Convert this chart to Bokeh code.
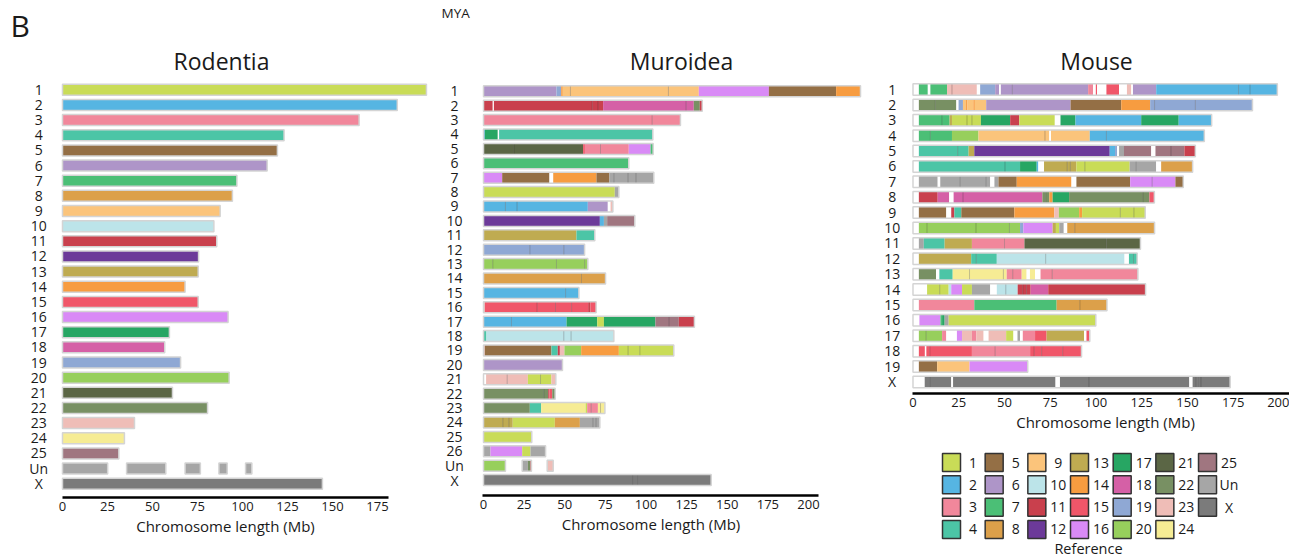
from bokeh.plotting import figure
from bokeh.layouts import row, column
from bokeh.models import FixedTicker, Range1d, ColumnDataSource
from bokeh.embed import file_html
from bokeh.resources import INLINE
from bokeh.core.properties import value

FONT = "Open Sans"
TEXT = "#1a1a1a"

# ---------------- reference chromosome colours ----------------
REF_KEYS = [str(i) for i in range(1, 26)] + ["Un", "X"]
REF_COLORS = ["#c9dc57", "#56b5e2", "#f1879b", "#4cc5a6", "#946f45", "#ae95c8", "#4bbf76",
              "#dca04a", "#fbc47b", "#bce4e9", "#c9404d", "#6c3a99", "#bfab51", "#f79c40",
              "#f05669", "#d98af6", "#27a663", "#d560a6", "#8fa8d4", "#97cf5c", "#5b6645",
              "#789063", "#efbdb7", "#f6ec94", "#a07680", "#a6a6a6", "#7b7b7b"]
COLORS = dict(zip(REF_KEYS, REF_COLORS))
COLORS["W"] = "#ffffff"

# ---------------- Rodentia (ancestral) ----------------
RODENTIA_CHROMS = [str(i) for i in range(1, 26)] + ["Un", "X"]
RODENTIA_LENGTHS = [202.2, 186.0, 164.8, 123.1, 119.4, 113.7, 96.9, 94.4, 87.6, 84.1, 85.7,
                    75.6, 75.4, 68.1, 75.4, 92.0, 59.4, 56.8, 65.6, 92.6, 61.1, 80.6, 40.0,
                    34.4, 31.3, None, 144.4]
RODENTIA_UN_START = [0.0, 35.6, 68.1, 86.9, 101.7]
RODENTIA_UN_END = [25.1, 57.4, 76.6, 91.5, 105.2]

# ---------------- Muroidea (chrom, start, end, reference) ----------------
MUROIDEA_CHROMS = [str(i) for i in range(1, 27)] + ["Un", "X"]
MUROIDEA_SEGMENTS = [
    ("1", 0, 44.9, "6"), ("1", 44.9, 47.8, "19"), ("1", 47.8, 48.8, "14"), ("1", 48.8, 53.5, "9"),
    ("1", 53.5, 113.8, "9"), ("1", 113.8, 132.5, "9"), ("1", 132.5, 175.6, "16"),
    ("1", 175.6, 217.0, "5"), ("1", 217.0, 232.0, "14"),
    ("2", 0, 5.7, "11"), ("2", 5.7, 6.4, "W"), ("2", 6.4, 66.9, "11"), ("2", 66.9, 70.5, "11"),
    ("2", 70.5, 73.6, "11"), ("2", 73.6, 124.7, "18"), ("2", 124.7, 129.4, "18"),
    ("2", 129.4, 133.1, "22"), ("2", 133.1, 134.6, "11"),
    ("3", 0, 103.8, "3"), ("3", 103.8, 121.2, "3"),
    ("4", 0, 0.8, "2"), ("4", 0.8, 8.8, "17"), ("4", 8.8, 9.6, "W"), ("4", 9.6, 104.2, "4"),
    ("5", 0, 18.7, "21"), ("5", 18.7, 61.3, "21"), ("5", 61.3, 62.4, "15"), ("5", 62.4, 72.0, "3"),
    ("5", 72.0, 89.4, "3"), ("5", 89.4, 102.8, "16"), ("5", 102.8, 104.4, "7"),
    ("6", 0, 89.4, "7"),
    ("7", 0, 11.5, "16"), ("7", 11.5, 40.6, "5"), ("7", 40.6, 42.9, "W"), ("7", 42.9, 69.5, "14"),
    ("7", 69.5, 77.5, "5"), ("7", 77.5, 80.2, "Un"), ("7", 80.2, 89.0, "Un"),
    ("7", 89.0, 93.9, "Un"), ("7", 93.9, 104.8, "Un"),
    ("8", 0, 80.8, "1"), ("8", 80.8, 83.3, "Un"),
    ("9", 0, 13.5, "2"), ("9", 13.5, 20.7, "2"), ("9", 20.7, 64.2, "2"), ("9", 64.2, 76.5, "6"),
    ("9", 76.5, 78.2, "W"), ("9", 78.2, 79.6, "23"),
    ("10", 0, 71.6, "12"), ("10", 71.6, 74.1, "2"), ("10", 74.1, 76.1, "Un"), ("10", 76.1, 93.1, "25"),
    ("11", 0, 57.2, "13"), ("11", 57.2, 68.5, "4"),
    ("12", 0, 28.5, "19"), ("12", 28.5, 49.4, "19"), ("12", 49.4, 62.2, "19"),
    ("13", 0, 5.7, "20"), ("13", 5.7, 44.9, "20"), ("13", 44.9, 62.2, "20"), ("13", 62.2, 64.2, "20"),
    ("14", 0, 60.3, "8"), ("14", 60.3, 75.1, "8"),
    ("15", 0, 50.5, "2"), ("15", 50.5, 58.7, "2"),
    ("16", 0, 0.8, "23"), ("16", 0.8, 33.0, "15"), ("16", 33.0, 44.3, "15"), ("16", 44.3, 54.2, "15"),
    ("16", 54.2, 64.4, "15"), ("16", 64.4, 65.8, "11"), ("16", 65.8, 69.3, "15"),
    ("17", 0, 17.2, "2"), ("17", 17.2, 51.1, "2"), ("17", 51.1, 70.0, "17"), ("17", 70.0, 74.1, "1"),
    ("17", 74.1, 105.8, "17"), ("17", 105.8, 114.1, "25"), ("17", 114.1, 120.2, "25"),
    ("17", 120.2, 129.8, "11"),
    ("18", 0, 1.8, "4"), ("18", 1.8, 49.4, "10"), ("18", 49.4, 53.9, "10"), ("18", 53.9, 80.2, "10"),
    ("19", 0, 0.8, "23"), ("19", 0.8, 41.8, "5"), ("19", 41.8, 45.7, "4"), ("19", 45.7, 47.0, "11"),
    ("19", 47.0, 49.8, "23"), ("19", 49.8, 60.1, "20"), ("19", 60.1, 83.3, "14"),
    ("19", 83.3, 89.0, "1"), ("19", 89.0, 96.2, "1"), ("19", 96.2, 117.1, "1"),
    ("20", 0, 48.6, "6"),
    ("21", 0, 1.6, "W"), ("21", 1.6, 14.6, "23"), ("21", 14.6, 27.3, "23"), ("21", 27.3, 35.1, "1"),
    ("21", 35.1, 41.8, "1"), ("21", 41.8, 44.5, "23"),
    ("22", 0, 37.1, "22"), ("22", 37.1, 39.8, "22"), ("22", 39.8, 40.6, "11"),
    ("22", 40.6, 42.3, "15"), ("22", 42.3, 44.1, "22"),
    ("23", 0, 28.5, "22"), ("23", 28.5, 35.5, "4"), ("23", 35.5, 62.8, "24"), ("23", 62.8, 63.8, "1"),
    ("23", 63.8, 66.3, "3"), ("23", 66.3, 70.4, "3"), ("23", 70.4, 72.0, "24"), ("23", 72.0, 74.7, "24"),
    ("24", 0, 11.9, "13"), ("24", 11.9, 15.6, "13"), ("24", 15.6, 18.0, "13"), ("24", 18.0, 43.9, "1"),
    ("24", 43.9, 59.3, "8"), ("24", 59.3, 67.3, "Un"), ("24", 67.3, 69.3, "Un"), ("24", 69.3, 71.6, "Un"),
    ("25", 0, 29.7, "1"),
    ("26", 0, 4.3, "Un"), ("26", 4.3, 23.8, "16"), ("26", 23.8, 28.9, "1"), ("26", 28.9, 38.2, "Un"),
    ("Un", 0, 13.5, "20"), ("Un", 23.8, 27.3, "Un"), ("Un", 27.3, 28.9, "22"), ("Un", 28.9, 29.5, "11"),
    ("Un", 39.2, 42.9, "23"),
    ("X", 0, 92.1, "X"), ("X", 92.1, 95.2, "X"), ("X", 95.2, 140.1, "X"),
]

# ---------------- Mouse (chrom, start, end, reference) ----------------
MOUSE_CHROMS = [str(i) for i in range(1, 20)] + ["X"]
MOUSE_SEGMENTS = [
    ("1", 0, 3.2, "W"), ("1", 3.2, 8.1, "7"), ("1", 8.1, 9.5, "W"), ("1", 9.5, 18.6, "7"),
    ("1", 18.6, 21.3, "23"), ("1", 21.3, 34.9, "23"), ("1", 34.9, 36.7, "W"), ("1", 36.7, 44.9, "19"),
    ("1", 44.9, 47.1, "6"), ("1", 47.1, 48.0, "W"), ("1", 48.0, 54.3, "6"), ("1", 54.3, 95.7, "6"),
    ("1", 95.7, 98.4, "3"), ("1", 98.4, 99.9, "W"), ("1", 99.9, 100.6, "15"), ("1", 100.6, 105.7, "W"),
    ("1", 105.7, 112.6, "15"), ("1", 112.6, 116.9, "W"), ("1", 116.9, 119.3, "23"),
    ("1", 119.3, 120.2, "W"), ("1", 120.2, 132.9, "6"), ("1", 132.9, 177.9, "2"),
    ("1", 177.9, 184.2, "2"), ("1", 184.2, 199.1, "2"),
    ("2", 0, 3.2, "W"), ("2", 3.2, 12.2, "22"), ("2", 12.2, 23.7, "22"), ("2", 23.7, 24.9, "W"),
    ("2", 24.9, 27.3, "19"), ("2", 27.3, 29.0, "9"), ("2", 29.0, 29.8, "14"), ("2", 29.8, 33.0, "9"),
    ("2", 33.0, 33.8, "14"), ("2", 33.8, 40.0, "9"), ("2", 40.0, 86.1, "6"), ("2", 86.1, 113.8, "5"),
    ("2", 113.8, 129.6, "14"), ("2", 129.6, 132.0, "19"), ("2", 132.0, 154.3, "19"),
    ("2", 154.3, 185.5, "19"),
    ("3", 0, 3.2, "W"), ("3", 3.2, 15.9, "7"), ("3", 15.9, 20.0, "7"), ("3", 20.0, 21.3, "13"),
    ("3", 21.3, 29.5, "1"), ("3", 29.5, 32.2, "1"), ("3", 32.2, 37.1, "1"), ("3", 37.1, 53.1, "17"),
    ("3", 53.1, 58.1, "11"), ("3", 58.1, 77.5, "1"), ("3", 77.5, 80.6, "W"), ("3", 80.6, 88.8, "17"),
    ("3", 88.8, 124.7, "2"), ("3", 124.7, 145.2, "17"), ("3", 145.2, 163.2, "2"),
    ("4", 0, 3.2, "W"), ("4", 3.2, 9.5, "7"), ("4", 9.5, 21.3, "7"), ("4", 21.3, 35.8, "20"),
    ("4", 35.8, 72.1, "9"), ("4", 72.1, 74.5, "9"), ("4", 74.5, 75.4, "W"), ("4", 75.4, 96.6, "9"),
    ("4", 96.6, 105.7, "2"), ("4", 105.7, 159.2, "2"),
    ("5", 0, 3.2, "W"), ("5", 3.2, 24.4, "4"), ("5", 24.4, 30.4, "4"), ("5", 30.4, 33.5, "13"),
    ("5", 33.5, 107.5, "12"), ("5", 107.5, 110.4, "2"), ("5", 110.4, 111.5, "19"),
    ("5", 111.5, 112.6, "W"), ("5", 112.6, 115.3, "Un"), ("5", 115.3, 130.2, "25"),
    ("5", 130.2, 132.5, "W"), ("5", 132.5, 141.0, "25"), ("5", 141.0, 148.3, "25"),
    ("5", 148.3, 154.3, "11"),
    ("6", 0, 3.2, "W"), ("6", 3.2, 50.3, "4"), ("6", 50.3, 58.5, "4"), ("6", 58.5, 67.6, "17"),
    ("6", 67.6, 68.5, "2"), ("6", 68.5, 71.6, "W"), ("6", 71.6, 84.3, "13"), ("6", 84.3, 86.0, "13"),
    ("6", 86.0, 89.3, "13"), ("6", 89.3, 93.9, "1"), ("6", 93.9, 118.4, "1"), ("6", 118.4, 122.0, "Un"),
    ("6", 122.0, 132.9, "Un"), ("6", 132.9, 135.6, "W"), ("6", 135.6, 152.8, "8"),
    ("7", 0, 3.2, "W"), ("7", 3.2, 13.5, "Un"), ("7", 13.5, 14.9, "W"), ("7", 14.9, 25.8, "Un"),
    ("7", 25.8, 40.0, "Un"), ("7", 40.0, 42.2, "Un"), ("7", 42.2, 44.5, "W"), ("7", 44.5, 46.7, "Un"),
    ("7", 46.7, 56.7, "5"), ("7", 56.7, 86.6, "14"), ("7", 86.6, 89.3, "W"), ("7", 89.3, 118.7, "5"),
    ("7", 118.7, 130.7, "16"), ("7", 130.7, 143.4, "16"), ("7", 143.4, 147.7, "5"),
    ("8", 0, 3.2, "W"), ("8", 3.2, 13.5, "11"), ("8", 13.5, 19.8, "18"), ("8", 19.8, 22.2, "W"),
    ("8", 22.2, 27.3, "18"), ("8", 27.3, 70.7, "18"), ("8", 70.7, 72.5, "22"), ("8", 72.5, 74.5, "22"),
    ("8", 74.5, 76.3, "14"), ("8", 76.3, 85.3, "17"), ("8", 85.3, 125.6, "22"),
    ("8", 125.6, 129.2, "22"), ("8", 129.2, 131.9, "15"),
    ("9", 0, 3.2, "W"), ("9", 3.2, 18.2, "5"), ("9", 18.2, 20.9, "W"), ("9", 20.9, 22.6, "11"),
    ("9", 22.6, 26.4, "4"), ("9", 26.4, 55.4, "5"), ("9", 55.4, 77.2, "14"), ("9", 77.2, 79.7, "23"),
    ("9", 79.7, 90.8, "20"), ("9", 90.8, 92.4, "14"), ("9", 92.4, 113.3, "1"), ("9", 113.3, 120.7, "1"),
    ("9", 120.7, 126.9, "1"),
    ("10", 0, 3.2, "W"), ("10", 3.2, 7.7, "20"), ("10", 7.7, 34.4, "20"), ("10", 34.4, 52.7, "20"),
    ("10", 52.7, 58.5, "20"), ("10", 58.5, 60.3, "19"), ("10", 60.3, 76.3, "16"),
    ("10", 76.3, 78.1, "13"), ("10", 78.1, 79.9, "1"), ("10", 79.9, 82.4, "Un"), ("10", 82.4, 84.3, "W"),
    ("10", 84.3, 88.4, "8"), ("10", 88.4, 132.0, "8"),
    ("11", 0, 3.2, "W"), ("11", 3.2, 5.9, "Un"), ("11", 5.9, 17.3, "4"), ("11", 17.3, 32.2, "13"),
    ("11", 32.2, 50.0, "3"), ("11", 50.0, 60.9, "3"), ("11", 60.9, 105.7, "21"),
    ("11", 105.7, 124.3, "21"),
    ("12", 0, 3.2, "W"), ("12", 3.2, 31.8, "13"), ("12", 31.8, 34.6, "4"), ("12", 34.6, 45.8, "4"),
    ("12", 45.8, 72.5, "10"), ("12", 72.5, 115.6, "10"), ("12", 115.6, 118.0, "W"),
    ("12", 118.0, 120.5, "4"), ("12", 120.5, 122.5, "4"),
    ("13", 0, 3.2, "W"), ("13", 3.2, 12.6, "22"), ("13", 12.6, 14.4, "W"), ("13", 14.4, 21.7, "4"),
    ("13", 21.7, 30.9, "24"), ("13", 30.9, 49.4, "24"), ("13", 49.4, 51.2, "24"),
    ("13", 51.2, 54.5, "3"), ("13", 54.5, 59.4, "3"), ("13", 59.4, 62.1, "24"), ("13", 62.1, 63.9, "W"),
    ("13", 63.9, 66.7, "24"), ("13", 66.7, 69.7, "W"), ("13", 69.7, 76.1, "3"), ("13", 76.1, 122.9, "3"),
    ("14", 0, 7.7, "W"), ("14", 7.7, 14.6, "1"), ("14", 14.6, 19.5, "1"), ("14", 19.5, 20.9, "10"),
    ("14", 20.9, 26.8, "16"), ("14", 26.8, 32.2, "1"), ("14", 32.2, 42.2, "Un"), ("14", 42.2, 45.8, "W"),
    ("14", 45.8, 50.7, "10"), ("14", 50.7, 57.2, "10"), ("14", 57.2, 60.0, "11"),
    ("14", 60.0, 62.0, "11"), ("14", 62.0, 64.3, "11"), ("14", 64.3, 73.9, "18"),
    ("14", 73.9, 127.1, "11"),
    ("15", 0, 3.2, "W"), ("15", 3.2, 33.5, "3"), ("15", 33.5, 78.5, "7"), ("15", 78.5, 91.2, "8"),
    ("15", 91.2, 106.0, "8"),
    ("16", 0, 3.5, "W"), ("16", 3.5, 15.0, "16"), ("16", 15.0, 15.9, "7"), ("16", 15.9, 17.3, "17"),
    ("16", 17.3, 19.5, "Un"), ("16", 19.5, 99.9, "1"),
    ("17", 0, 3.2, "W"), ("17", 3.2, 7.2, "20"), ("17", 7.2, 15.9, "20"), ("17", 15.9, 18.2, "3"),
    ("17", 18.2, 24.0, "W"), ("17", 24.0, 26.8, "16"), ("17", 26.8, 32.2, "23"),
    ("17", 32.2, 34.6, "3"), ("17", 34.6, 38.6, "23"), ("17", 38.6, 41.3, "W"),
    ("17", 41.3, 50.9, "23"), ("17", 50.9, 54.9, "1"), ("17", 54.9, 57.1, "W"),
    ("17", 57.1, 58.5, "Un"), ("17", 58.5, 60.0, "W"), ("17", 60.0, 66.7, "3"),
    ("17", 66.7, 73.0, "15"), ("17", 73.0, 93.5, "13"), ("17", 93.5, 94.8, "W"),
    ("17", 94.8, 96.6, "15"),
    ("18", 0, 3.2, "W"), ("18", 3.2, 6.5, "15"), ("18", 6.5, 7.3, "W"), ("18", 7.3, 9.2, "15"),
    ("18", 9.2, 32.2, "15"), ("18", 32.2, 44.9, "3"), ("18", 44.9, 64.0, "3"), ("18", 64.0, 66.2, "15"),
    ("18", 66.2, 70.3, "15"), ("18", 70.3, 81.8, "15"), ("18", 81.8, 92.1, "15"),
    ("19", 0, 3.2, "W"), ("19", 3.2, 13.2, "5"), ("19", 13.2, 30.9, "9"), ("19", 30.9, 62.7, "16"),
    ("X", 0, 6.4, "W"), ("X", 6.4, 9.2, "X"), ("X", 9.2, 20.9, "X"), ("X", 20.9, 21.9, "W"),
    ("X", 21.9, 77.9, "X"), ("X", 77.9, 80.3, "W"), ("X", 80.3, 96.2, "X"), ("X", 96.2, 151.0, "X"),
    ("X", 151.0, 152.8, "W"), ("X", 152.8, 154.7, "X"), ("X", 154.7, 155.6, "X"),
    ("X", 155.6, 157.4, "X"), ("X", 157.4, 173.3, "X"),
]

RODENTIA_TICKS = [0, 25, 50, 75, 100, 125, 150, 175]
MUROIDEA_TICKS = [0, 25, 50, 75, 100, 125, 150, 175, 200]
MOUSE_TICKS = [0, 25, 50, 75, 100, 125, 150, 175, 200]


def rodentia_segments():
    segs = []
    for c, L in zip(RODENTIA_CHROMS, RODENTIA_LENGTHS):
        if c == "Un":
            for a, b in zip(RODENTIA_UN_START, RODENTIA_UN_END):
                segs.append(("Un", a, b, "Un"))
        else:
            segs.append((c, 0.0, L, c))
    return segs


def sources(segments, chroms, h):
    pos = {c: i for i, c in enumerate(chroms)}
    seg = dict(y=[], left=[], right=[], color=[])
    blk = dict(y=[], left=[], right=[])
    brk = dict(x=[], y0=[], y1=[])
    for c in chroms:
        ss = sorted([s for s in segments if s[0] == c], key=lambda s: s[1])
        cur = None
        prev = None
        for (_, a, b, r) in ss:
            seg["y"].append(pos[c]); seg["left"].append(a); seg["right"].append(b)
            seg["color"].append(COLORS[r])
            if cur is not None and abs(a - cur[1]) < 0.05:
                cur[1] = b
                if prev is not None and prev == r and r != "W":
                    brk["x"].append(a); brk["y0"].append(pos[c] - h / 2); brk["y1"].append(pos[c] + h / 2)
            else:
                if cur is not None:
                    blk["y"].append(pos[c]); blk["left"].append(cur[0]); blk["right"].append(cur[1])
                cur = [a, b]
            prev = r
        if cur is not None:
            blk["y"].append(pos[c]); blk["left"].append(cur[0]); blk["right"].append(cur[1])
    return ColumnDataSource(seg), ColumnDataSource(blk), ColumnDataSource(brk)


def make_panel(segments, chroms, xr, yr, fw, fh, mbl, mbr, mbb, bar_h, label_x,
               ticks, bounds, axis_label):
    p = figure(frame_width=fw, frame_height=fh, x_range=Range1d(*xr), y_range=Range1d(*yr),
               output_backend="svg", toolbar_location=None, tools="", y_axis_location=None,
               min_border_left=mbl, min_border_right=mbr, min_border_top=0,
               min_border_bottom=mbb, outline_line_color=None,
               background_fill_color="white", border_fill_color="white")
    p.xgrid.visible = False
    p.ygrid.visible = False
    seg, blk, brk = sources(segments, chroms, bar_h)
    p.hbar(y="y", left="left", right="right", height=bar_h, fill_color="white",
           line_color=None, source=blk)
    p.hbar(y="y", left="left", right="right", height=bar_h, fill_color="color",
           line_color=None, source=seg)
    p.segment(x0="x", y0="y0", x1="x", y1="y1", line_color="black", line_alpha=0.22,
              line_width=1, source=brk)
    p.hbar(y="y", left="left", right="right", height=bar_h, fill_color=None,
           line_color="#d4d4d4", line_width=1.5, source=blk)
    p.text(x=[label_x] * len(chroms), y=list(range(len(chroms))), text=chroms,
           text_align="center", text_baseline="middle", text_font=value(FONT),
           text_font_size="14px", text_color=TEXT)
    ax = p.xaxis[0]
    ax.ticker = FixedTicker(ticks=ticks)
    ax.bounds = bounds
    ax.axis_line_width = 2.5
    ax.axis_line_color = "black"
    ax.major_tick_line_color = None
    ax.minor_tick_line_color = None
    ax.major_tick_out = 0
    ax.major_tick_in = 0
    ax.major_label_text_font = FONT
    ax.major_label_text_font_size = "13px"
    ax.major_label_text_color = TEXT
    ax.major_label_standoff = 4
    if axis_label:
        ax.axis_label = axis_label
        ax.axis_label_text_font = FONT
        ax.axis_label_text_font_size = "15px"
        ax.axis_label_text_font_style = "normal"
        ax.axis_label_text_color = TEXT
        ax.axis_label_standoff = 2
    return p


# Rodentia: 0 Mb at x=62, 1.8 px/Mb ; rows 15.15 px apart
rod = make_panel(rodentia_segments(), RODENTIA_CHROMS,
                 xr=(-23.33, -23.33 + 410 / 1.8), yr=(-0.944 + 422 / 15.15, -0.944),
                 fw=410, fh=422, mbl=20, mbr=5, mbb=45, bar_h=11 / 15.15, label_x=-13.2,
                 ticks=RODENTIA_TICKS, bounds=(0, 181), axis_label="Chromosome length (Mb)")

# Muroidea: 0 Mb at x=483, 1.625 px/Mb ; rows 14.4 px apart
mur = make_panel(MUROIDEA_SEGMENTS, MUROIDEA_CHROMS,
                 xr=(-27.08, -27.08 + 423 / 1.625), yr=(-1.097 + 420 / 14.4, -1.097),
                 fw=423, fh=420, mbl=4, mbr=8, mbb=47, bar_h=11 / 14.4, label_x=-17.85,
                 ticks=MUROIDEA_TICKS, bounds=(-0.6, 206), axis_label="Chromosome length (Mb)")

# Mouse: 0 Mb at x=912.5, 1.83 px/Mb ; rows 15.39 px apart
mou = make_panel(MOUSE_SEGMENTS, MOUSE_CHROMS,
                 xr=(-20.49, -20.49 + 414 / 1.83), yr=(-0.91 + 318 / 15.39, -0.91),
                 fw=414, fh=318, mbl=5, mbr=0, mbb=19, bar_h=11.5 / 15.39, label_x=-11.4,
                 ticks=MOUSE_TICKS, bounds=(-0.3, 210), axis_label=None)

# ---------------- header (window-pixel coordinates) ----------------
hdr = figure(frame_width=1289, frame_height=75, x_range=Range1d(0, 1289), y_range=Range1d(75, 0),
             output_backend="svg", toolbar_location=None, tools="", x_axis_location=None,
             y_axis_location=None, min_border=0, outline_line_color=None)
hdr.xgrid.visible = False
hdr.ygrid.visible = False
hdr.text(x=[10], y=[25], text=["B"], text_font=value(FONT), text_font_size="30px",
         text_color=TEXT, text_baseline="middle", text_align="left")
hdr.text(x=[441], y=[12], text=["MYA"], text_font=value(FONT), text_font_size="13.5px",
         text_color=TEXT, text_baseline="middle", text_align="left")
hdr.text(x=[221, 681, 1096], y=[60, 60, 60], text=["Rodentia", "Muroidea", "Mouse"],
         text_font=value(FONT), text_font_size="23px", text_color=TEXT,
         text_baseline="middle", text_align="center")

# ---------------- legend (window-pixel coordinates) ----------------
LEGEND_ORDER = REF_KEYS
leg = figure(frame_width=419, frame_height=147, x_range=Range1d(870, 1289), y_range=Range1d(559, 412),
             output_backend="svg", toolbar_location=None, tools="", x_axis_location=None,
             y_axis_location=None, min_border=0, outline_line_color=None)
leg.xgrid.visible = False
leg.ygrid.visible = False
sq = 18
col_left = [937 + 42.67 * (i // 4) for i in range(len(LEGEND_ORDER))]
row_y = [462 + 22.33 * (i % 4) for i in range(len(LEGEND_ORDER))]
leg.rect(x=[c + sq / 2 for c in col_left], y=row_y, width=sq, height=sq,
         fill_color=[COLORS[k] for k in LEGEND_ORDER], line_color="#333333", line_width=1.5)
leg.text(x=[c + sq + 12.5 for c in col_left], y=row_y, text=LEGEND_ORDER, text_align="center",
         text_baseline="middle", text_font=value(FONT), text_font_size="14px", text_color=TEXT)
leg.text(x=[1083], y=[548], text=["Reference"], text_align="center", text_baseline="middle",
         text_font=value(FONT), text_font_size="14.5px", text_color=TEXT)
leg.text(x=[1100], y=[421.5], text=["Chromosome length (Mb)"], text_align="center",
         text_baseline="middle", text_font=value(FONT), text_font_size="15px", text_color=TEXT)

layout = column(hdr, row(rod, mur, column(mou, leg)))

open("out.html", "w").write(file_html(layout, INLINE))
